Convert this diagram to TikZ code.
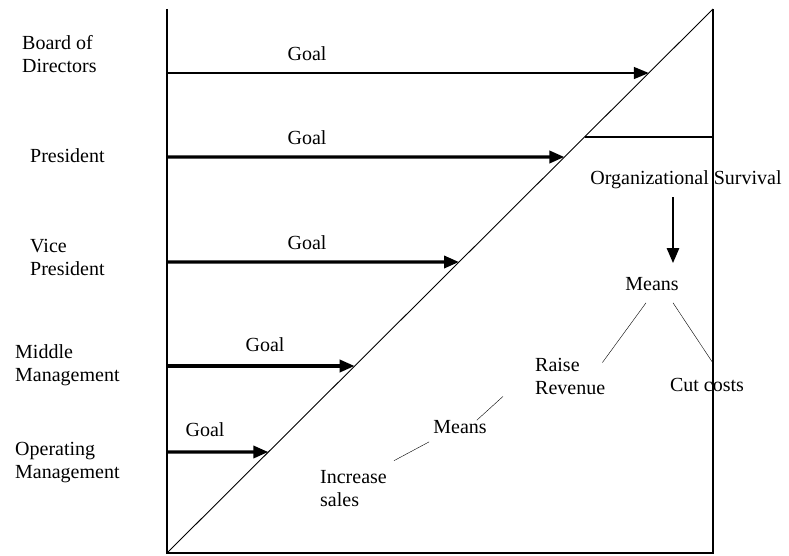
\documentclass[tikz,border=0pt]{standalone}
\usepackage{fontspec}
\setmainfont{Liberation Serif}
\usetikzlibrary{calc, arrows.meta}

\begin{document}
\begin{tikzpicture}[x=1pt, y=-1pt,
  goal/.style={-{Triangle[length=15pt, width=12pt]}, line width=3.4pt},
  txt/.style={inner sep=0pt, font=\fontsize{20}{23}\selectfont, align=left}]

\useasboundingbox (0,0) rectangle (789,556);

% 外框：左、下、右三边
\coordinate (TL) at (167,9);
\coordinate (BL) at (167,553);
\coordinate (BR) at (713,553);
\coordinate (TR) at (713,9);
\draw[line width=1.5pt] (TL) -- (BL) -- (BR) -- (TR);

% 对角线
\draw[line width=0.9pt] (BL) -- (TR);

% 对角线右侧的横线
\coordinate (hD) at ($(BL)!{416/544}!(TR)$);
\draw[line width=1.2pt] (hD) -- (hD -| TR);

% 各层级名称
\node[txt, anchor=west] (board)  at (22,54)  {Board of\\Directors};
\node[txt, anchor=west] (pres)   at (30,156) {President};
\node[txt, anchor=west] (vice)   at (30,257) {Vice\\President};
\node[txt, anchor=west] (middle) at (15,365) {Middle\\Management};
\node[txt, anchor=west] (oper)   at (15,463) {Operating\\Management};

% 箭头起点（左边）与终点（对角线上）
\coordinate (sB) at (167,73);
\coordinate (sP) at (167,157);
\coordinate (sV) at (167,262);
\coordinate (sM) at (167,366);
\coordinate (sO) at (167,452);
\coordinate (eB) at ($(BL)!{480/544}!(TR)$);
\coordinate (eP) at ($(BL)!{396/544}!(TR)$);
\coordinate (eV) at ($(BL)!{291/544}!(TR)$);
\coordinate (eM) at ($(BL)!{187/544}!(TR)$);
\coordinate (eO) at ($(BL)!{101/544}!(TR)$);

% Goal 箭头
\draw[goal, line width=1.6pt] (sB) -- (eB);
\draw[goal] (sP) -- (eP);
\draw[goal] (sV) -- (eV);
\draw[goal] (sM) -- (eM);
\draw[goal] (sO) -- (eO);

% Goal 标注
\node[txt] (gB) at (307,54)  {Goal};
\node[txt] (gP) at (307,138) {Goal};
\node[txt] (gV) at (307,243) {Goal};
\node[txt] (gM) at (265,345) {Goal};
\node[txt] (gO) at (205,430) {Goal};

% 右侧：组织生存 -> 手段
\node[txt] (surv)     at (686,180) {Organizational Survival};
\node[txt] (meansTop) at (652,284) {Means};
\coordinate (dn) at (673,0);
\draw[goal, line width=2.6pt] ($(surv.south -| dn)+(0,8)$) -- ($(meansTop.north -| dn)+(0,-14)$);

\node[txt, anchor=west] (raise) at (535,376) {Raise\\Revenue};
\node[txt] (cut) at (707,385) {Cut costs};
\draw ($(meansTop.south)+(-6,12)$) -- ($(raise.north east)+(-3,5)$);
\draw ($(meansTop.south)+(21,12)$) -- ($(cut.north)+(6,-15)$);

% 下方：手段 -> 增加销售
\node[txt] (meansLow) at (460,427) {Means};
\node[txt, anchor=west] (incr) at (320,489) {Increase\\sales};
\draw ($(raise.south west)+(-32,2)$) -- ($(meansLow.north east)+(-10,0)$);
\draw ($(meansLow.south west)+(-4,8)$) -- ($(incr.north east)+(7,-10)$);

\end{tikzpicture}
\end{document}
